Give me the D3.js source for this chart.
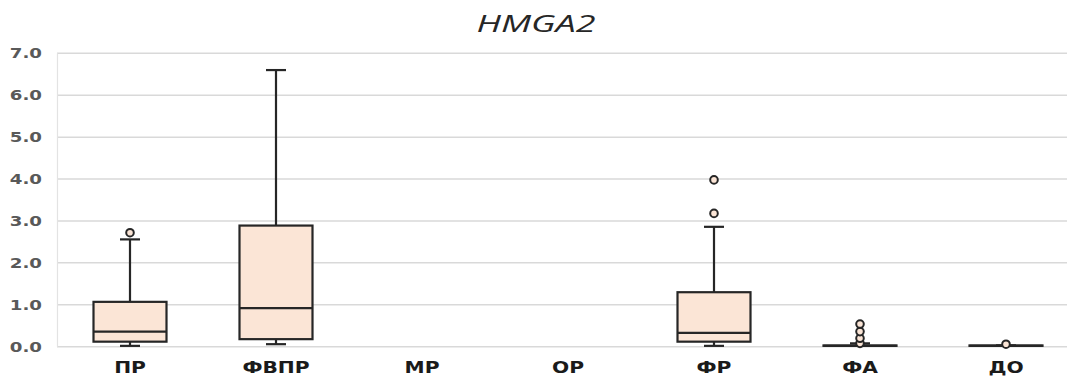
<!DOCTYPE html>
<html><head><meta charset="utf-8">
<script src="https://cdn.jsdelivr.net/npm/d3@7"></script>
<style>body{margin:0;background:#fff;overflow:hidden}</style>
</head><body>
<svg id="c" width="1067" height="378"></svg>
<script>
const categories = ["ПР","ФВПР","МР","ОР","ФР","ФА","ДО"];
const whiskerLow  = [0.02, 0.06, null, null, 0.02, 0.02, 0.02];
const q1          = [0.12, 0.18, null, null, 0.12, 0.02, 0.02];
const median      = [0.36, 0.92, null, null, 0.33, 0.02, 0.02];
const q3          = [1.07, 2.89, null, null, 1.30, 0.03, 0.03];
const whiskerHigh = [2.56, 6.60, null, null, 2.86, 0.08, 0.03];
const outliers    = [[2.72], [], [], [], [3.18, 3.98], [0.08, 0.20, 0.36, 0.54], [0.06]];
const yTicks = [0,1,2,3,4,5,6,7];

const svg = d3.select("#c");
const x = d3.scaleBand().domain(categories).range([57, 1079]);
const y = d3.scaleLinear().domain([0,7]).range([346.7, 53.3]);

// gridlines
svg.append("g").selectAll("line").data(yTicks).join("line")
  .attr("x1", 57).attr("x2", 1079)
  .attr("y1", d=>y(d)).attr("y2", d=>y(d))
  .attr("stroke", "#d9d9d9").attr("stroke-width", 1.5);
svg.append("line").attr("x1",57.5).attr("x2",57.5).attr("y1",y(7)).attr("y2",y(0))
  .attr("stroke","#e3e3e3").attr("stroke-width",1.2);

const font = "'DejaVu Sans', Verdana, sans-serif";
// y axis labels
const sy = 1.3;
const yAxis = d3.axisLeft(y).tickValues(yTicks).tickFormat(d3.format(".1f")).tickSize(0).tickPadding(15);
const ga = svg.append("g").attr("transform","translate(57,0)").call(yAxis);
ga.select(".domain").remove();
ga.selectAll("text").attr("font-family",font)
  .attr("font-size",14).attr("font-weight","bold").attr("fill","#595959")
  .attr("x",-15/sy).attr("transform",`scale(${sy},1)`);

// x labels
const sx = 1.35;
const xAxis = d3.axisBottom(x).tickSize(0).tickPadding(16);
const gx = svg.append("g").attr("transform",`translate(0,${y(0)})`).call(xAxis);
gx.select(".domain").remove();
gx.selectAll("text").attr("font-family",font)
  .attr("font-size",15).attr("font-weight","bold").attr("fill","#1a1a1a")
  .attr("transform",`scale(${sx},1)`);

// title
svg.append("g").attr("transform","translate(536,32)")
  .append("text").attr("text-anchor","middle").attr("transform","scale(1.5,1)")
  .attr("font-family","'Open Sans', 'DejaVu Sans', sans-serif").attr("font-style","italic")
  .attr("font-size",24).attr("fill","#262626").text("HMGA2");

const stroke = "#262626", fill = "#fbe5d6";
const bw = x.bandwidth()*0.5, cap = 20;
const boxes = svg.append("g");
categories.forEach((c,i)=>{
  if (q1[i]==null) return;
  const cx = x(c) + x.bandwidth()/2;
  const g = boxes.append("g");
  g.append("line").attr("x1",cx).attr("x2",cx).attr("y1",y(q3[i])).attr("y2",y(whiskerHigh[i]))
    .attr("stroke",stroke).attr("stroke-width",2.2);
  g.append("line").attr("x1",cx).attr("x2",cx).attr("y1",y(q1[i])).attr("y2",y(whiskerLow[i]))
    .attr("stroke",stroke).attr("stroke-width",2.2);
  g.append("line").attr("x1",cx-cap/2).attr("x2",cx+cap/2).attr("y1",y(whiskerHigh[i])).attr("y2",y(whiskerHigh[i]))
    .attr("stroke",stroke).attr("stroke-width",2.2);
  g.append("line").attr("x1",cx-cap/2).attr("x2",cx+cap/2).attr("y1",y(whiskerLow[i])).attr("y2",y(whiskerLow[i]))
    .attr("stroke",stroke).attr("stroke-width",2.2);
  g.append("rect").attr("x",cx-bw/2).attr("width",bw)
    .attr("y",y(q3[i])).attr("height",Math.max(0,y(q1[i])-y(q3[i])))
    .attr("fill",fill).attr("stroke",stroke).attr("stroke-width",2.2);
  g.append("line").attr("x1",cx-bw/2).attr("x2",cx+bw/2).attr("y1",y(median[i])).attr("y2",y(median[i]))
    .attr("stroke",stroke).attr("stroke-width",2.2);
  g.selectAll("circle").data(outliers[i]).join("circle")
    .attr("cx",cx).attr("cy",d=>y(d)).attr("r",3.8)
    .attr("fill",fill).attr("stroke",stroke).attr("stroke-width",2);
});
</script>
</body></html>
